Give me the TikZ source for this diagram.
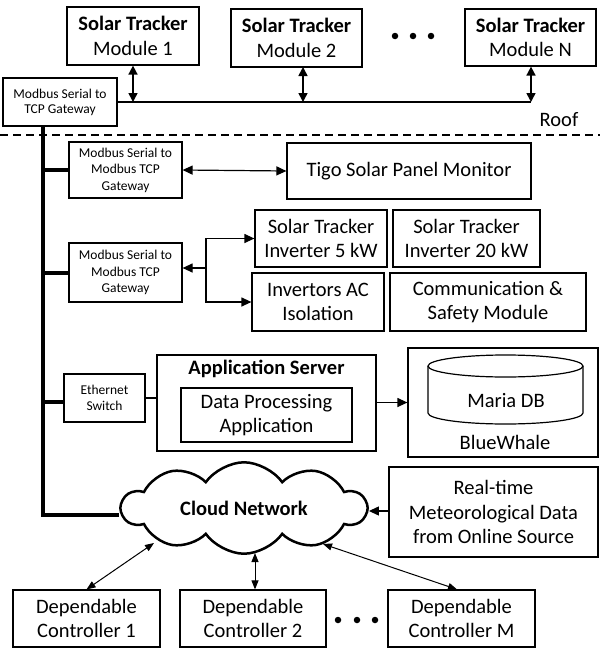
\documentclass[tikz,border=0pt]{standalone}
\usepackage{fontspec}
\setmainfont{Carlito}
\usetikzlibrary{arrows.meta,shapes.symbols}
\begin{document}
\begin{tikzpicture}[x=1pt,y=-1pt,
  box/.style={draw, line width=1.2pt, align=center, inner sep=0pt, font=\fontsize{20.5}{24.5}\selectfont},
  sbox/.style={box, font=\fontsize{13.5}{16.5}\selectfont},
  txt/.style={inner sep=0pt, align=center, font=\fontsize{20.5}{24.5}\selectfont},
  trunk/.style={line width=4pt},
  busarrow/.style={line width=1.6pt, {Triangle[length=9pt,width=9pt]}-{Triangle[length=9pt,width=9pt]}},
  midarrow/.style={line width=1.2pt, -{Triangle[length=10pt,width=9pt]}},
  ctlarrow/.style={line width=1pt, {Triangle[length=9pt,width=7pt]}-{Triangle[length=9pt,width=7pt]}},
  dot/.style={circle, fill, inner sep=0pt, minimum size=6.5pt}]
\useasboundingbox (0,0) rectangle (600,648);

% roof modules
\node[box, minimum width=132pt, minimum height=58pt] (m1) at (133,36) {\textbf{Solar Tracker}\\Module 1};
\node[box, minimum width=131pt, minimum height=58pt] (m2) at (296.5,38) {\textbf{Solar Tracker}\\Module 2};
\node[box, minimum width=131pt, minimum height=57pt] (mN) at (530.5,37.5) {\textbf{Solar Tracker}\\Module N};
\node[dot] (d1) at (395,36) {};
\node[dot] (d2) at (413,36) {};
\node[dot] (d3) at (431,36) {};

\node[sbox, font=\fontsize{13.5}{15}\selectfont, minimum width=114pt, minimum height=48pt] (gw1) at (60,102) {Modbus Serial to\\TCP Gateway};

\coordinate (busN) at (531,102);
\draw[line width=1.6pt] (gw1.east) -- (busN);
\draw[busarrow] (m1.south) -- (m1.south |- gw1.east);
\coordinate (m2top) at (303,67);
\draw[busarrow] (m2top) -- (m2top |- gw1.east);
\draw[busarrow] (mN.south -| busN) -- (busN);

% roof line
\draw[line width=1.2pt, dash pattern=on 8pt off 5pt] (0,135) -- (600,135);
\node[txt] (roof) at (559,120) {Roof};

% gateways and devices
\node[sbox, minimum width=113pt, minimum height=56pt] (gw2) at (125.5,170) {Modbus Serial to\\Modbus TCP\\Gateway};
\node[box, minimum width=244pt, minimum height=56pt] (tigo) at (409,171) {Tigo Solar Panel Monitor};
\draw[line width=1.2pt, {Triangle[length=10pt,width=9pt]}-{Triangle[length=10pt,width=9pt]}] (gw2.east) -- (tigo.west);

\node[sbox, minimum width=113pt, minimum height=59pt] (gw3) at (125.5,272.5) {Modbus Serial to\\Modbus TCP\\Gateway};
\node[box, minimum width=132pt, minimum height=57pt] (inv5) at (321,238.5) {Solar Tracker\\Inverter 5 kW};
\node[box, minimum width=147pt, minimum height=57pt] (inv20) at (466.5,238.5) {Solar Tracker\\Inverter 20 kW};
\node[box, minimum width=132pt, minimum height=58pt] (acis) at (318,302) {Invertors AC\\Isolation};
\node[box, minimum width=196pt, minimum height=58pt] (comm) at (488,302) {Communication \&\\Safety Module};

\coordinate (fork) at (206,268);
\draw[midarrow] (fork) -- (fork -| gw3.east);
\draw[midarrow] (fork) |- (inv5.west);
\draw[midarrow] (fork) |- (acis.west);

% server part
\node[sbox, minimum width=81pt, minimum height=48pt, font=\fontsize{13.5}{16}\selectfont] (eth) at (104.5,398) {Ethernet\\Switch};
\node[box, minimum width=219pt, minimum height=96pt] (app) at (266.5,403) {};
\node[txt] (apptitle) at (266.5,369) {\textbf{Application Server}};
\node[box, minimum width=171pt, minimum height=54pt] (dpa) at (266.5,415) {Data Processing\\Application};
\draw[line width=1.2pt] (eth.east) -- (eth.east -| app.west);

\node[box, minimum width=190pt, minimum height=109pt] (bw) at (503,402.5) {};
\draw[line width=1.2pt] (505.5,366) ellipse [x radius=77.5pt, y radius=11pt];
\draw[line width=1.2pt] (428,366) -- (428,413) arc[start angle=180, end angle=360, x radius=77.5pt, y radius=11pt] -- (583,366);
\node[txt] (maria) at (506,401) {Maria DB};
\node[txt] (bluewhale) at (505,442) {BlueWhale};
\draw[midarrow] (app.east |- bw.west) -- (bw.west);

% cloud
\node[cloud, draw, line width=2.5pt, cloud puffs=10, cloud puff arc=110, aspect=2.75,
      minimum width=244pt, minimum height=86pt, inner sep=0pt,
      font=\bfseries\fontsize{20.5}{24.5}\selectfont] (cloud) at (244,508) {Cloud Network};

\node[box, minimum width=209pt, minimum height=90pt] (rt) at (493.5,512) {Real-time\\Meteorological Data\\from Online Source};
\draw[midarrow] (rt.west |- 0,511) -- (cloud.east |- 0,511);

% trunk
\coordinate (trunkTop) at (43,126);
\coordinate (trunkBot) at (43,515);
\draw[trunk] (trunkTop) -- (trunkBot) -- (trunkBot -| cloud.west);
\draw[trunk] (gw2.west -| trunkTop) -- (gw2.west);
\draw[trunk] (gw3.west -| trunkTop) -- (gw3.west);
\draw[trunk] (43,402) -- (eth.west |- 0,402);

% controllers
\node[box, minimum width=147pt, minimum height=57pt] (c1) at (86.5,618.5) {Dependable\\Controller 1};
\node[box, minimum width=146pt, minimum height=57pt] (c2) at (253,618.5) {Dependable\\Controller 2};
\node[box, minimum width=147pt, minimum height=57pt] (cM) at (461.5,618.5) {Dependable\\Controller M};
\node[dot] (e1) at (338,620) {};
\node[dot] (e2) at (357,620) {};
\node[dot] (e3) at (375,620) {};

\coordinate (k1) at (154,543);
\coordinate (k2) at (255,553);
\coordinate (kM) at (323,544);
\draw[ctlarrow] (c1.north) -- (k1);
\draw[ctlarrow] (c2.north -| k2) -- (k2);
\draw[ctlarrow] (cM.north -| 457,0) -- (kM);
\end{tikzpicture}
\end{document}
